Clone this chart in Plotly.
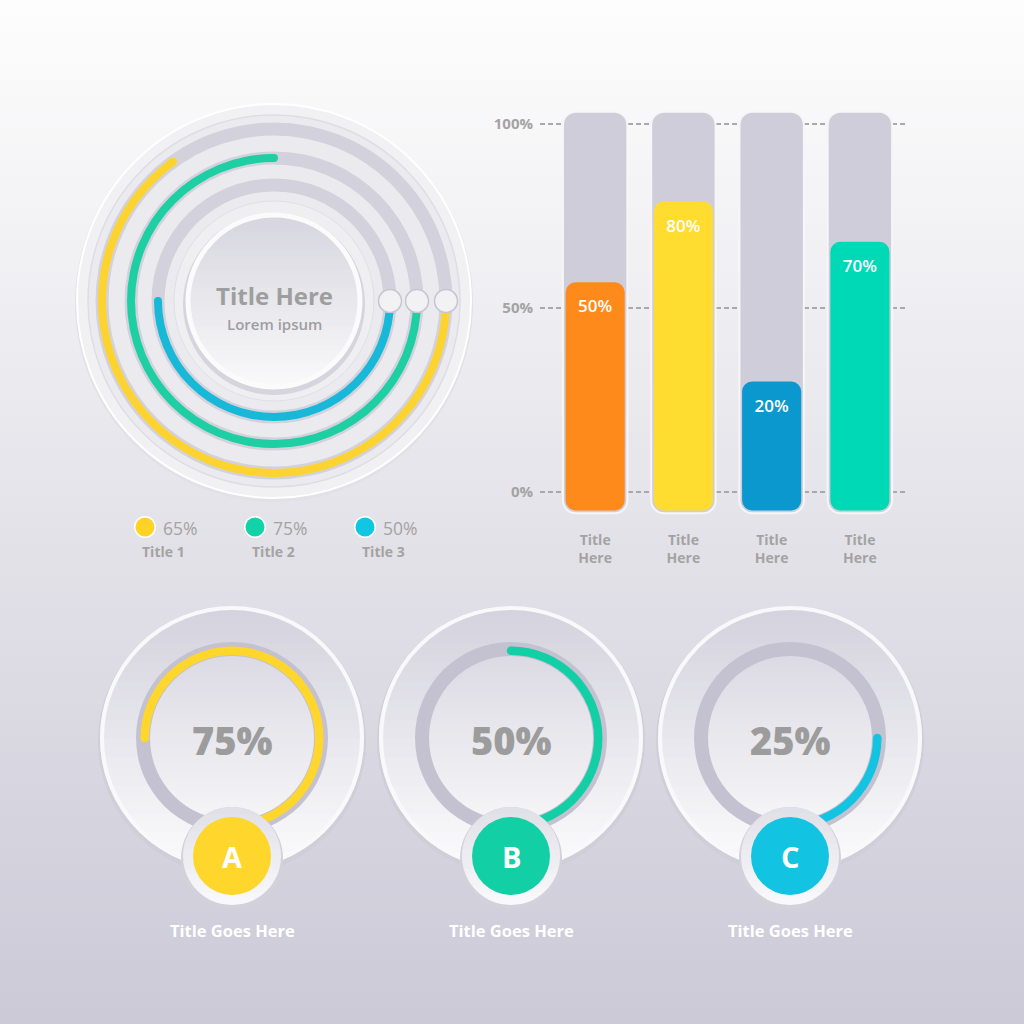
import math
import plotly.graph_objects as go

W = H = 1024

# ---------------- data ----------------
ring_names = ["Title 1", "Title 2", "Title 3"]
ring_values = [65, 75, 50]
ring_colors = ["#fdd330", "#1dcfa2", "#18b8d8"]
legend_dot_colors = ["#ffd226", "#12d3a8", "#10c6e2"]

bar_categories = ["Title<br>Here", "Title<br>Here", "Title<br>Here", "Title<br>Here"]
bar_heights = [57, 79, 30, 68]          # drawn bar tops (percent of axis)
bar_labels = ["50%", "80%", "20%", "70%"]
bar_colors = ["#ff8a1c", "#ffdc2f", "#0b98cf", "#00d9b5"]
y_tick_vals = [0, 50, 100]
y_tick_text = ["0%", "50%", "100%"]

gauge_values = [75, 50, 25]
gauge_letters = ["A", "B", "C"]
gauge_titles = ["Title Goes Here", "Title Goes Here", "Title Goes Here"]
gauge_colors = ["#fed62c", "#12cfa6", "#12c4e2"]

FONT = "Open Sans"
GRAY_TXT = "#9e9e9e"


def px(x):
    return x / W


def py(y):
    return 1 - y / H


def square(cx, cy, r):
    return dict(x=[px(cx - r), px(cx + r)], y=[py(cy + r), py(cy - r)])


def circ(cx, cy, r, fill, line=None, lw=0, layer="below"):
    return dict(type="circle", xref="paper", yref="paper",
                x0=px(cx - r), x1=px(cx + r), y0=py(cy + r), y1=py(cy - r),
                fillcolor=fill, line=dict(color=line or fill, width=lw), layer=layer)


def ring_outline(cx, cy, r, color, lw, layer="below"):
    return dict(type="circle", xref="paper", yref="paper",
                x0=px(cx - r), x1=px(cx + r), y0=py(cy + r), y1=py(cy - r),
                fillcolor="rgba(0,0,0,0)", line=dict(color=color, width=lw), layer=layer)


def mix(c1, c2, t):
    return "rgb(%d,%d,%d)" % tuple(int(round(c1[k] + (c2[k] - c1[k]) * t)) for k in range(3))


def grad_disk(cx, cy, r, ctop, cbot, n=28, layer="below"):
    """vertical-gradient disk built from horizontal slices"""
    out = []
    for i in range(n):
        ya = cy - r + 2 * r * i / n
        yb = min(cy + r, cy - r + 2 * r * (i + 1) / n + 0.6)
        ys = [ya + (yb - ya) * k / 6 for k in range(7)]
        left = [(cx - math.sqrt(max(r * r - (y - cy) ** 2, 0)), y) for y in ys]
        right = [(cx + math.sqrt(max(r * r - (y - cy) ** 2, 0)), y) for y in reversed(ys)]
        pts = left + right
        path = "M " + " L ".join("%.5f,%.5f" % (px(x), py(y)) for x, y in pts) + " Z"
        out.append(dict(type="path", xref="paper", yref="paper", path=path,
                        fillcolor=mix(ctop, cbot, (i + 0.5) / n), line=dict(width=0), layer=layer))
    return out


fig = go.Figure()
shapes = []
annotations = []


def label(x, y, text, size, color, weight, anchor="center"):
    return dict(x=px(x), y=py(y), xref="paper", yref="paper", text=text, showarrow=False,
                xanchor=anchor, yanchor="middle",
                font=dict(family=FONT, size=size, color=color, weight=weight))


# ---------------- background gradient ----------------
top = (253, 253, 253)
bot = (204, 202, 215)
nb = 64
for i in range(nb):
    shapes.append(dict(type="rect", xref="paper", yref="paper", x0=0, x1=1,
                       y0=1 - (i + 1) / nb - 0.001, y1=1 - i / nb,
                       fillcolor=mix(top, bot, i / (nb - 1)), line=dict(width=0), layer="below"))

# ---------------- radial chart (top-left) ----------------
RCX, RCY, RR = 274, 301, 197
ring_r = [172, 143, 116]
shapes.append(circ(RCX, RCY + 2, RR + 2, "#e2e1e8"))
shapes.append(circ(RCX, RCY, RR, "#f1f1f4", "#ffffff", 2))
shapes.append(circ(RCX, RCY, 186, "#ebebef", "#dedde5", 1.5))
shapes.append(circ(RCX, RCY, 100, "#efeff2", "#e0dfe6", 1))
shapes.append(circ(RCX, RCY + 3, 91, "#d6d5dd"))
shapes += grad_disk(RCX, RCY, 88, (214, 213, 222), (250, 250, 251))
shapes.append(ring_outline(RCX, RCY, 86, "#fbfbfc", 5))

polar_common = dict(
    bgcolor="rgba(0,0,0,0)",
    angularaxis=dict(visible=False, showgrid=False, direction="clockwise", rotation=0),
)
layout_polars = {}
layout_polars["polar"] = dict(domain=square(RCX, RCY, RR),
                              radialaxis=dict(visible=False, showgrid=False, range=[0, RR]),
                              **polar_common)

fig.add_trace(go.Barpolar(
    r=[13] * 3, base=[r - 6.5 for r in ring_r], theta=[180] * 3, width=[360] * 3,
    marker=dict(color="#d3d2dc", line=dict(width=0)), subplot="polar", hoverinfo="skip"))
fig.add_trace(go.Barpolar(
    r=[8] * 3, base=[r - 4 for r in ring_r],
    theta=[v * 3.6 / 2 for v in ring_values], width=[v * 3.6 for v in ring_values],
    marker=dict(color=ring_colors, line=dict(width=0)), subplot="polar",
    customdata=ring_names, hovertemplate="%{customdata}<extra></extra>"))
fig.add_trace(go.Scatterpolar(
    r=ring_r, theta=[v * 3.6 for v in ring_values], mode="markers",
    marker=dict(size=8, color=ring_colors, line=dict(width=0)), subplot="polar", hoverinfo="skip"))
fig.add_trace(go.Scatterpolar(
    r=ring_r, theta=[0] * 3, mode="markers",
    marker=dict(size=23, color="#f2f2f5", line=dict(color="#c6c5cf", width=1.5)),
    subplot="polar", hoverinfo="skip"))

annotations.append(label(RCX, 295, "Title Here", 24, GRAY_TXT, 700))
annotations.append(label(RCX, 324, "Lorem ipsum", 15, GRAY_TXT, 600))

# legend under radial chart
for i, (name, val, col) in enumerate(zip(ring_names, ring_values, legend_dot_colors)):
    lx = 145 + i * 110
    shapes.append(circ(lx, 527, 11, "#ffffff"))
    shapes.append(circ(lx, 527, 9.5, col))
    annotations.append(label(lx + 16, 528, f"{val}%", 17.5, "#a3a3a3", 500, anchor="left"))
    annotations.append(label(lx + 18, 551, name, 14, "#a3a3a3", 700))

# ---------------- bar chart (top-right) ----------------
PX_PER = 3.68   # px per percent
Y0 = 492
TRACK_BASE, TRACK_TOP = -5.8, 103.3
BAR_BASE = -5.0
xs = list(range(len(bar_heights)))
fig.add_trace(go.Bar(
    x=xs, y=[TRACK_TOP - TRACK_BASE] * len(xs), base=[TRACK_BASE] * len(xs),
    width=0.73, marker=dict(color="#cecdd9", line=dict(color="#f6f6f8", width=2), cornerradius=13),
    xaxis="x", yaxis="y", hoverinfo="skip"))
fig.add_trace(go.Bar(
    x=xs, y=[h - BAR_BASE for h in bar_heights], base=[BAR_BASE] * len(xs),
    width=0.67, marker=dict(color=bar_colors, line=dict(width=0), cornerradius=10),
    xaxis="x", yaxis="y", customdata=bar_labels, hovertemplate="%{customdata}<extra></extra>"))
fig.add_trace(go.Scatter(
    x=xs, y=[h - 26 / PX_PER for h in bar_heights], text=bar_labels, mode="text",
    textfont=dict(family=FONT, size=17, color="#ffffff", weight=600),
    xaxis="x", yaxis="y", hoverinfo="skip"))

# ---------------- gauges (bottom) ----------------
GCY = 738
GR = 132
gauge_cx = [232, 511, 790]
for i, (cx, v, col, letter, title) in enumerate(zip(gauge_cx, gauge_values, gauge_colors,
                                                   gauge_letters, gauge_titles)):
    shapes.append(circ(cx, GCY + 3, GR + 2, "#cfced9"))
    shapes += grad_disk(cx, GCY, GR, (211, 210, 221), (252, 252, 253))
    shapes.append(ring_outline(cx, GCY, GR - 2, "#f9f9fb", 4))
    shapes += grad_disk(cx, GCY, 82, (220, 219, 228), (245, 245, 247))
    name = "polar%d" % (i + 2)
    layout_polars[name] = dict(domain=square(cx, GCY, GR),
                               radialaxis=dict(visible=False, showgrid=False, range=[0, GR]),
                               **polar_common)
    fig.add_trace(go.Barpolar(
        r=[14], base=[82], theta=[180], width=[360],
        marker=dict(color="#c4c2d0", line=dict(width=0)), subplot=name, hoverinfo="skip"))
    fig.add_trace(go.Barpolar(
        r=[8.5], base=[83], theta=[90 - v * 3.6 / 2], width=[v * 3.6],
        marker=dict(color=col, line=dict(width=0)), subplot=name,
        hovertemplate=f"{letter}: {v}%<extra></extra>"))
    fig.add_trace(go.Scatterpolar(
        r=[87.25], theta=[90 - v * 3.6], mode="markers",
        marker=dict(size=8.5, color=col, line=dict(width=0)), subplot=name, hoverinfo="skip"))
    # badge
    shapes.append(circ(cx, 858, 51, "#d3d2dc", layer="above"))
    shapes += grad_disk(cx, 856, 49, (224, 223, 231), (250, 250, 252), n=16, layer="above")
    shapes.append(circ(cx, 856, 39, col, layer="above"))
    annotations.append(label(cx, 740, f"{v}%", 38, "#9c9c9c", 800))
    annotations.append(label(cx, 856, letter, 29, "#ffffff", 700))
    annotations.append(label(cx, 930, title, 16.5, "#ffffff", 700))

fig.update_layout(
    width=W, height=H, margin=dict(l=0, r=0, t=0, b=0, pad=0),
    paper_bgcolor="#f2f2f4", plot_bgcolor="rgba(0,0,0,0)",
    showlegend=False, barmode="overlay",
    font=dict(family=FONT),
    shapes=shapes, annotations=annotations,
    xaxis=dict(domain=[px(540), px(905)], range=[-0.625, 3.511], tickvals=xs,
               ticktext=bar_categories, showgrid=False, zeroline=False, showline=False,
               ticks="", ticklabelstandoff=10,
               tickfont=dict(family=FONT, size=14, color="#a3a3a3", weight=700)),
    yaxis=dict(domain=[py(520), py(100)], range=[(Y0 - 520) / PX_PER, (Y0 - 100) / PX_PER],
               tickvals=y_tick_vals, ticktext=y_tick_text, showgrid=True,
               gridcolor="#a9a9a9", gridwidth=1.5, griddash="5px,3px", zeroline=False,
               showline=False, ticks="", ticklabelstandoff=6,
               tickfont=dict(family=FONT, size=15, color="#a3a3a3", weight=700)),
    **layout_polars,
)

fig.write_html("out.html")
